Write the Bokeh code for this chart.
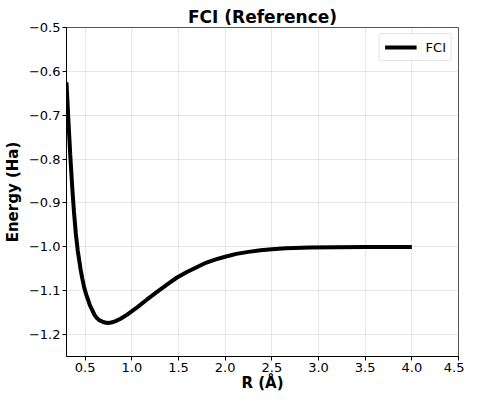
from bokeh.plotting import figure
from bokeh.models import FixedTicker, Range1d, Legend, LegendItem
from bokeh.embed import file_html
from bokeh.resources import INLINE

# Data
R_angstrom = [0.30, 0.31, 0.32, 0.33, 0.34, 0.36, 0.38, 0.40, 0.42, 0.45, 0.47,
              0.49, 0.51, 0.53, 0.55, 0.58, 0.60, 0.62, 0.65, 0.70, 0.74, 0.78,
              0.82, 0.88, 0.95, 1.06, 1.16, 1.27, 1.38, 1.48, 1.59, 1.70, 1.80,
              1.90, 2.00, 2.12, 2.25, 2.38, 2.50, 2.65, 2.91, 3.18, 3.50, 4.00]
E_fci = [-0.625, -0.668, -0.710, -0.750, -0.790, -0.860, -0.920, -0.970, -1.008,
         -1.050, -1.073, -1.093, -1.108, -1.120, -1.133, -1.146, -1.155, -1.161,
         -1.167, -1.172, -1.1735, -1.1725, -1.170, -1.164, -1.1545, -1.1375,
         -1.1205, -1.1025, -1.0855, -1.0705, -1.0575, -1.0460, -1.0358, -1.0285,
         -1.0225, -1.0160, -1.0115, -1.0080, -1.0055, -1.0035, -1.0015, -1.0008,
         -1.0003, -1.0001]

x_ticks = [0.5, 1.0, 1.5, 2.0, 2.5, 3.0, 3.5, 4.0, 4.5]
x_tick_labels = ["0.5", "1.0", "1.5", "2.0", "2.5", "3.0", "3.5", "4.0", "4.5"]
y_ticks = [-1.2, -1.1, -1.0, -0.9, -0.8, -0.7, -0.6, -0.5]
y_tick_labels = ["−1.2", "−1.1", "−1.0", "−0.9", "−0.8", "−0.7", "−0.6", "−0.5"]

FONT = "DejaVu Sans"

p = figure(width=464, height=394, output_backend="svg", toolbar_location=None,
           x_range=Range1d(0.3, 4.5), y_range=Range1d(-1.25, -0.5),
           min_border_left=64, min_border_right=6, min_border_top=27,
           min_border_bottom=0, title="FCI (Reference)",
           background_fill_color="white", border_fill_color="white")

p.title.text_font = FONT
p.title.text_font_size = "17px"
p.title.text_font_style = "bold"
p.title.align = "center"
p.title.standoff = 2
p.title.text_color = "black"

r = p.line(R_angstrom, E_fci, line_color="black", line_width=4)

p.xaxis.ticker = FixedTicker(ticks=x_ticks)
p.yaxis.ticker = FixedTicker(ticks=y_ticks)
p.xaxis.major_label_overrides = {t: l for t, l in zip(x_ticks, x_tick_labels)}
p.yaxis.major_label_overrides = {t: l for t, l in zip(y_ticks, y_tick_labels)}

for ax in (p.xaxis[0], p.yaxis[0]):
    ax.major_label_text_font = FONT
    ax.major_label_text_font_size = "13px"
    ax.major_label_text_color = "black"
    ax.axis_label_text_font = FONT
    ax.axis_label_text_font_size = "15px"
    ax.axis_label_text_font_style = "bold"
    ax.axis_label_text_color = "black"
    ax.major_tick_out = 4
    ax.major_tick_in = 0
    ax.minor_tick_out = 0
    ax.minor_tick_in = 0
    ax.axis_line_color = "black"
    ax.major_tick_line_color = "black"
    ax.major_label_standoff = 2

p.xaxis.axis_label = "R (Å)"
p.xaxis.axis_label_standoff = -1
p.yaxis.axis_label = "Energy (Ha)"
p.yaxis.axis_label_standoff = 4

p.grid.grid_line_color = "#b0b0b0"
p.grid.grid_line_alpha = 0.3
p.grid.grid_line_width = 1

p.outline_line_color = "#555555"
p.outline_line_width = 1

legend = Legend(items=[LegendItem(label="FCI", renderers=[r])],
                location="top_right")
legend.label_text_font = FONT
legend.label_text_font_size = "13px"
legend.label_text_color = "black"
legend.glyph_width = 32
legend.glyph_height = 16
legend.label_standoff = 9
legend.padding = 5
legend.margin = 6
legend.spacing = 0
legend.border_line_color = "#cccccc"
legend.border_line_width = 1
legend.border_radius = 3
legend.background_fill_alpha = 0.8
p.add_layout(legend)

open("out.html", "w").write(file_html(p, INLINE))
